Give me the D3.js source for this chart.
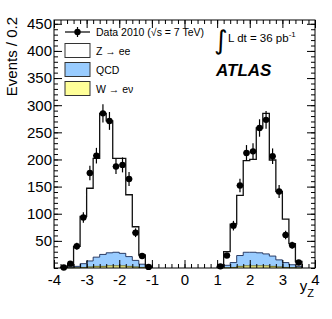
<!DOCTYPE html>
<html>
<head>
<meta charset="utf-8">
<script src="https://cdn.jsdelivr.net/npm/d3@7"></script>
<style>
body { margin: 0; background: #fff; }
text { font-family: "Liberation Sans", Arial, Helvetica, sans-serif; }
</style>
</head>
<body>
<div id="chart"></div>
<script>
// bin centres in y_Z (bin width 0.2)
const binCenters = [-3.7, -3.5, -3.3, -3.1, -2.9, -2.7, -2.5, -2.3, -2.1, -1.9, -1.7, -1.5, -1.3, -1.1,
                    1.1, 1.3, 1.5, 1.7, 1.9, 2.1, 2.3, 2.5, 2.7, 2.9, 3.1, 3.3, 3.5]
const binWidth = 0.2

// Data 2010
const dataCounts = [1, 8, 40, 93, 175, 207, 285, 271, 187, 190, 164, 65, 22, 2,
                    3, 23, 78, 152, 212, 215, 258, 273, 206, 141, 61, 42, 10]
// MC components (stacked: W at bottom, then QCD, then Z)
const wenuMC = [0, 0.3, 0.5, 1, 2, 3, 3, 4, 4, 4, 3, 2, 1, 0.5,
                0.3, 0.5, 1, 3, 4, 4, 4, 4, 3, 2, 1, 0.5, 0.3]
const qcdMC = [0.5, 1.2, 2.5, 7, 11, 17, 22, 24, 25, 23, 18, 12, 6, 2.5,
               1.7, 4.5, 9, 20, 25, 25, 24, 22, 19, 13, 9, 5.5, 2.7]
const zeeMC = [0.5, 2.5, 37, 87, 134, 182, 260, 243, 173, 175, 114, 62, 17, 0,
               1, 25, 71, 111, 169, 171, 230, 259, 177, 126, 80, 39, 9]

const xTicks = [-4, -3, -2, -1, 0, 1, 2, 3, 4]
const yTicks = [50, 100, 150, 200, 250, 300, 350, 400, 450]

const legendItems = [
    {label: 'Z \u2192 ee', fill: '#ffffff'},
    {label: 'QCD', fill: '#99ccff'},
    {label: 'W \u2192 e\u03bd', fill: '#ffff99'}
]

const width = 332, height = 319
const m = {left: 54, right: 315, top: 20, bottom: 268}

const svg = d3.select('#chart')
    .append('svg')
        .attr('width', width)
        .attr('height', height)

const x = d3.scaleLinear().domain([-4, 4]).range([m.left, m.right])
const y = d3.scaleLinear().domain([0, 457]).range([m.bottom, m.top])

// stacked layers
const bins = binCenters.map((c, i) => {
    const w = wenuMC[i], q = w + qcdMC[i], z = q + zeeMC[i]
    return {c, lo: c - binWidth / 2, hi: c + binWidth / 2, w, q, z, n: dataCounts[i]}
})

// split into contiguous groups
const groups = []
bins.forEach((b, i) => {
    if (i === 0 || b.c - bins[i - 1].c > binWidth * 1.5) groups.push([])
    groups[groups.length - 1].push(b)
})

const stepPts = (g, key0, key1) => g.flatMap(b => [
    {x: b.lo, y0: key0 ? b[key0] : 0, y1: b[key1]},
    {x: b.hi, y0: key0 ? b[key0] : 0, y1: b[key1]}
])

const area = d3.area()
    .x(d => x(d.x))
    .y0(d => y(d.y0))
    .y1(d => y(d.y1))

const outline = d3.line()
    .x(d => x(d[0]))
    .y(d => y(d[1]))

const outlinePts = (g, key) => [[g[0].lo, 0], ...g.flatMap(b => [[b.lo, b[key]], [b.hi, b[key]]]), [g[g.length - 1].hi, 0]]

const layers = [
    {lo: 'q', hi: 'z', fill: legendItems[0].fill, stroke: '#111', sw: 1.3},
    {lo: 'w', hi: 'q', fill: legendItems[1].fill, stroke: '#1a2a55', sw: 0.9},
    {lo: null, hi: 'w', fill: legendItems[2].fill, stroke: '#555500', sw: 0.8}
]

const plot = svg.append('g').attr('class', 'plot')

groups.forEach(g => {
    layers.forEach(l => {
        plot.append('path')
            .attr('d', area(stepPts(g, l.lo, l.hi)))
            .style('fill', l.fill)
            .style('stroke', 'none')
    })
    layers.slice().reverse().forEach(l => {
        plot.append('path')
            .attr('d', outline(outlinePts(g, l.hi)))
            .style('fill', 'none')
            .style('stroke', l.stroke)
            .style('stroke-width', l.sw)
    })
})

// data points with sqrt(N) errors
const pts = plot.append('g').attr('class', 'data')
bins.forEach(b => {
    const e = Math.sqrt(b.n)
    pts.append('line')
        .attr('x1', x(b.c)).attr('x2', x(b.c))
        .attr('y1', y(Math.max(b.n - e, 0))).attr('y2', y(b.n + e))
        .style('stroke', '#000').style('stroke-width', 1.2)
    pts.append('line')
        .attr('x1', x(b.lo)).attr('x2', x(b.hi))
        .attr('y1', y(b.n)).attr('y2', y(b.n))
        .style('stroke', '#000').style('stroke-width', 1.2)
    pts.append('circle')
        .attr('cx', x(b.c)).attr('cy', y(b.n)).attr('r', 3.2)
        .style('fill', '#000')
})

// axes with inward ticks
const tickStyle = g => g.selectAll('line').style('stroke', '#000')
const noDomain = g => g.select('.domain').remove()
const fontStyle = g => g.selectAll('text')
    .style('font-size', '15px')
    .style('font-family', '"Liberation Sans", Arial, Helvetica, sans-serif')
    .style('fill', '#000')

const xMinor = d3.range(-4, 4.001, 0.2)
const yMinor = d3.range(0, 457, 10)

svg.append('g').attr('transform', `translate(0,${m.bottom})`)
    .call(d3.axisBottom(x).tickValues(xMinor).tickSize(-4).tickFormat(''))
    .call(noDomain).call(tickStyle)
svg.append('g').attr('transform', `translate(0,${m.bottom})`)
    .call(d3.axisBottom(x).tickValues(xTicks).tickSize(-8).tickPadding(6).tickFormat(d => d < 0 ? '-' + Math.abs(d) : d))
    .call(noDomain).call(tickStyle).call(fontStyle)
svg.append('g').attr('transform', `translate(0,${m.top})`)
    .call(d3.axisTop(x).tickValues(xMinor).tickSize(-4).tickFormat(''))
    .call(noDomain).call(tickStyle)
svg.append('g').attr('transform', `translate(0,${m.top})`)
    .call(d3.axisTop(x).tickValues(xTicks).tickSize(-8).tickFormat(''))
    .call(noDomain).call(tickStyle)

svg.append('g').attr('transform', `translate(${m.left},0)`)
    .call(d3.axisLeft(y).tickValues(yMinor).tickSize(-4).tickFormat(''))
    .call(noDomain).call(tickStyle)
svg.append('g').attr('transform', `translate(${m.left},0)`)
    .call(d3.axisLeft(y).tickValues(yTicks).tickSize(-8).tickPadding(2))
    .call(noDomain).call(tickStyle).call(fontStyle)
svg.append('g').attr('transform', `translate(${m.right},0)`)
    .call(d3.axisRight(y).tickValues(yMinor).tickSize(-4).tickFormat(''))
    .call(noDomain).call(tickStyle)
svg.append('g').attr('transform', `translate(${m.right},0)`)
    .call(d3.axisRight(y).tickValues(yTicks).tickSize(-8).tickFormat(''))
    .call(noDomain).call(tickStyle)

svg.append('rect')
    .attr('x', m.left).attr('y', m.top)
    .attr('width', m.right - m.left).attr('height', m.bottom - m.top)
    .style('fill', 'none').style('stroke', '#000').style('stroke-width', 1)

// axis titles
svg.append('text')
    .attr('transform', `translate(17,${m.top - 3}) rotate(-90)`)
    .attr('text-anchor', 'end')
    .style('font-size', '15px')
    .text('Events / 0.2')

const xt = svg.append('text')
    .attr('x', m.right - 1).attr('y', 291)
    .attr('text-anchor', 'end')
    .style('font-size', '15px')
xt.append('tspan').text('y')
xt.append('tspan').attr('dy', 6).style('font-size', '11px').text('Z')

// legend
const legend = svg.append('g').attr('class', 'legend')
const lx = 65, lw = 25
legend.append('line')
    .attr('x1', lx).attr('x2', lx + lw).attr('y1', 32).attr('y2', 32)
    .style('stroke', '#000').style('stroke-width', 1.2)
legend.append('line')
    .attr('x1', lx + lw / 2).attr('x2', lx + lw / 2).attr('y1', 27).attr('y2', 37)
    .style('stroke', '#000').style('stroke-width', 1.2)
legend.append('circle')
    .attr('cx', lx + lw / 2).attr('cy', 32).attr('r', 3.2).style('fill', '#000')
legend.append('text')
    .attr('x', 96).attr('y', 36)
    .style('font-size', '10.5px')
    .text('Data 2010 (\u221as = 7 TeV)')

legendItems.forEach((d, i) => {
    const cy = 50.5 + i * 19
    legend.append('rect')
        .attr('x', lx).attr('y', cy - 7)
        .attr('width', lw).attr('height', 14)
        .style('fill', d.fill).style('stroke', '#333').style('stroke-width', 1)
    legend.append('text')
        .attr('x', 96).attr('y', cy + 4)
        .style('font-size', '10.5px')
        .text(d.label)
})

// luminosity and ATLAS label
svg.append('text')
    .attr('x', 214).attr('y', 49)
    .style('font-family', '"DejaVu Sans", sans-serif')
    .style('font-size', '26px')
    .text('\u222b')
const lum = svg.append('text')
    .attr('x', 228).attr('y', 42)
    .style('font-size', '11.5px')
lum.append('tspan').text('L dt = 36 pb')
lum.append('tspan').attr('dy', -5).style('font-size', '8px').text('-1')

svg.append('text')
    .attr('x', 216).attr('y', 76)
    .style('font-size', '17px')
    .style('font-weight', 'bold')
    .style('font-style', 'italic')
    .text('ATLAS')
</script>
</body>
</html>
